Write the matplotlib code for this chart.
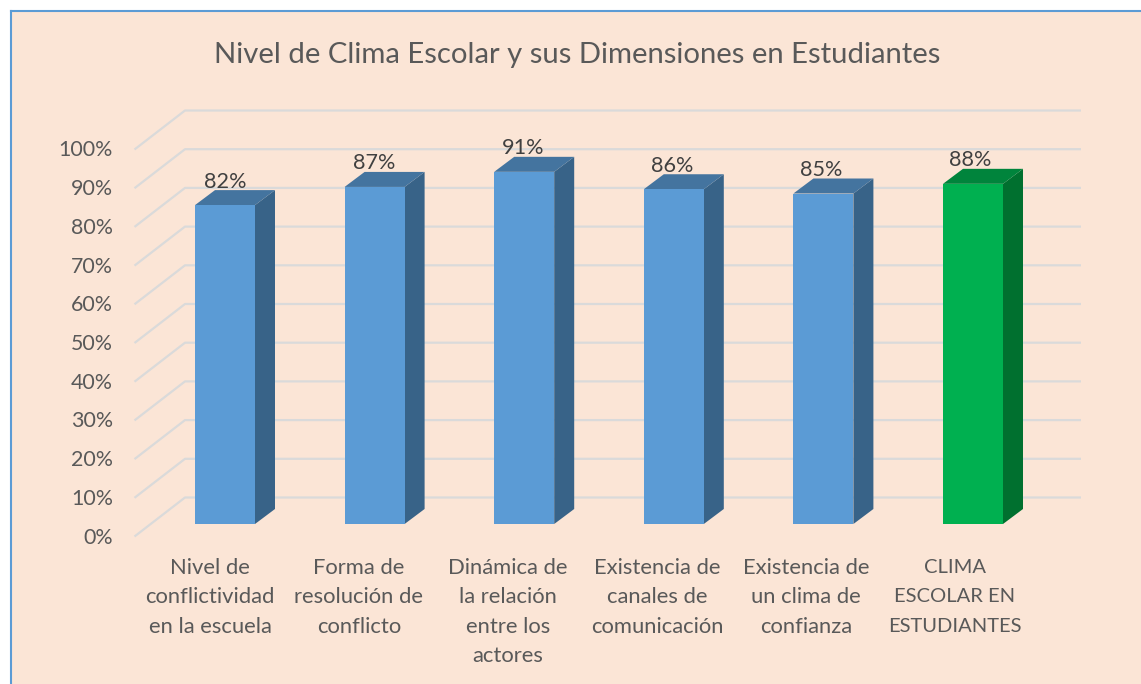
import matplotlib
matplotlib.use('Agg')
import matplotlib.pyplot as plt
from matplotlib.patches import Polygon, Rectangle

plt.rcParams['font.family'] = ['Lato', 'DejaVu Sans']

categories = [
    'Nivel de\nconflictividad\nen la escuela',
    'Forma de\nresolución de\nconflicto',
    'Dinámica de\nla relación\nentre los\nactores',
    'Existencia de\ncanales de\ncomunicación',
    'Existencia de\nun clima de\nconfianza',
    'CLIMA\nESCOLAR EN\nESTUDIANTES',
]
# labels show these rounded
values = [82.4, 87.1, 91.0, 86.5, 85.4, 87.9]
grid_ticks = [0, 10, 20, 30, 40, 50, 60, 70, 80, 90, 100]
title = 'Nivel de Clima Escolar y sus Dimensiones en Estudiantes'

BLUE = ('#5B9BD5', '#44749F', '#386388')
GREEN = ('#00B050', '#00843C', '#00702F')
bar_colors = [BLUE, BLUE, BLUE, BLUE, BLUE, GREEN]
label_sizes = [15.8, 15.8, 15.8, 15.8, 15.8, 14.5]

W, H = 1141, 684
# pixels per unit on each axis
sx = 149.6
sy = 3.87
x0_px, y0_px = 225, 524

fig = plt.figure(figsize=(W / 100, H / 100), dpi=100, facecolor='white')
ax = fig.add_axes([0, 0, 1, 1])
ax.set_xlim(-x0_px / sx, (W - x0_px) / sx)
ax.set_ylim((y0_px - H) / sy, y0_px / sy)
ax.axis('off')


def dx(px):
    return px / sx


def dy(px):
    return px / sy


# chart area with blue border on top and left
ax.add_patch(Rectangle((dx(10 - x0_px), dy(y0_px - H)), dx(W), dy(H - 10),
                       facecolor='#FBE5D6', edgecolor='none', zorder=0))
ax.plot([dx(10.5 - x0_px)] * 2, [dy(y0_px - H), dy(y0_px - 10.5)], color='#5B9BD5', lw=1.5, zorder=1)
ax.plot([dx(10.5 - x0_px), dx(W - x0_px)], [dy(y0_px - 10.5)] * 2, color='#5B9BD5', lw=1.5, zorder=1)

# gridlines on the back wall plus the slanted part on the side wall
for v in grid_ticks:
    xs = [dx(134.5 - x0_px), dx(185 - x0_px), dx(1081 - x0_px)]
    ys = [v + dy(524 - 536.5), v + dy(524 - 497.5), v + dy(524 - 497.5)]
    ax.plot(xs, ys, color='#DADADA', lw=1.6, solid_capstyle='butt', zorder=2)
    ax.text(dx(113 - x0_px), v + dy(524 - 535.5), f'{v}%', ha='right', va='center_baseline',
            fontsize=15.4, color='#595959', zorder=5)

# bars: front, top and side faces
half = dx(30)
ddx, ddy = dx(20), dy(15)
for i, v in enumerate(values):
    front, top, side = bar_colors[i]
    ax.add_patch(Polygon([(i + half, 0), (i + half + ddx, ddy), (i + half + ddx, v + ddy), (i + half, v)],
                         facecolor=side, edgecolor='none', zorder=3))
    ax.add_patch(Polygon([(i - half, v), (i + half, v), (i + half + ddx, v + ddy), (i - half + ddx, v + ddy)],
                         facecolor=top, edgecolor='none', zorder=3))
    ax.add_patch(Rectangle((i - half, 0), 2 * half, v, facecolor=front, edgecolor='none', zorder=4))
    ax.text(i - dx(0.6 * i), v + dy(25.5), f'{v:.0f}%', ha='center', va='center_baseline',
            fontsize=15.6, color='#404040', zorder=6)

# category labels
for i, label in enumerate(categories):
    for j, line in enumerate(label.split('\n')):
        ax.text(i - dx(15 + 0.6 * i), dy(524 - 566 - 29.4 * j), line, ha='center', va='center_baseline',
                fontsize=label_sizes[i], color='#595959', zorder=5)

ax.text(dx(577.5 - x0_px), dy(524 - 52.5), title, ha='center', va='center_baseline',
        fontsize=21.1, color='#595959', zorder=5)

fig.savefig('out.png', dpi=100, facecolor='white')
